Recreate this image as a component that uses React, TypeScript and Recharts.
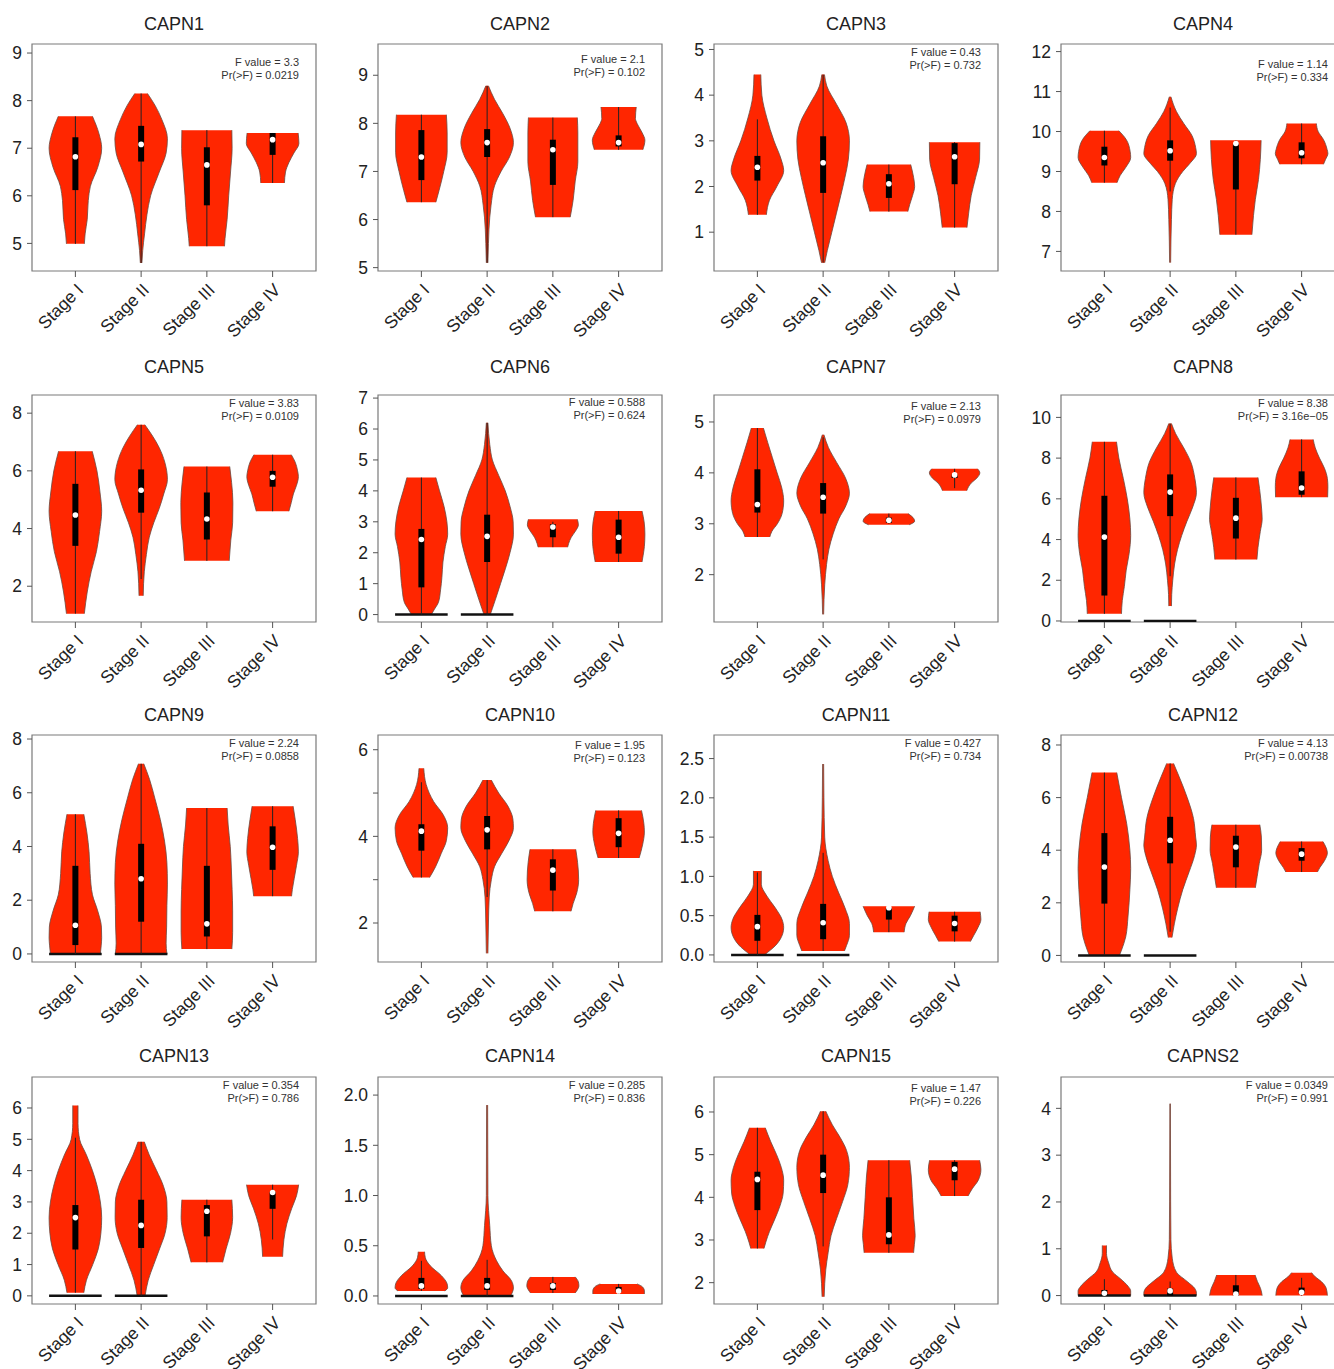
import React from "react";
import { ComposedChart, Area, Line, XAxis, YAxis, ReferenceArea } from "recharts";

const STAGES = ["Stage I", "Stage II", "Stage III", "Stage IV"];

const GENES = [
  "CAPN1", "CAPN2", "CAPN3", "CAPN4",
  "CAPN5", "CAPN6", "CAPN7", "CAPN8",
  "CAPN9", "CAPN10", "CAPN11", "CAPN12",
  "CAPN13", "CAPN14", "CAPN15", "CAPNS2",
];

const F_VALUES = [
  "3.3", "2.1", "0.43", "1.14",
  "3.83", "0.588", "2.13", "8.38",
  "2.24", "1.95", "0.427", "4.13",
  "0.354", "0.285", "1.47", "0.0349",
];

const P_VALUES = [
  "0.0219", "0.102", "0.732", "0.334",
  "0.0109", "0.624", "0.0979", "3.16e\u221205",
  "0.0858", "0.123", "0.734", "0.00738",
  "0.786", "0.836", "0.226", "0.991",
];

const Y_DOMAINS = [
  [4.42, 9.19], [4.93, 9.65], [0.15, 5.12], [6.51, 12.19],
  [0.76, 8.63], [-0.24, 7.1], [1.07, 5.53], [-0.05, 11.1],
  [-0.3, 8.15], [1.1, 6.34], [-0.09, 2.8], [-0.25, 8.38],
  [-0.26, 6.99], [-0.08, 2.18], [1.5, 6.82], [-0.18, 4.67],
];

const Y_TICKS = [
  [5, 6, 7, 8, 9], [5, 6, 7, 8, 9], [1, 2, 3, 4, 5], [7, 8, 9, 10, 11, 12],
  [2, 4, 6, 8], [0, 1, 2, 3, 4, 5, 6, 7], [2, 3, 4, 5], [0, 2, 4, 6, 8, 10],
  [0, 2, 4, 6, 8], [2, 3, 4, 5, 6], [0, 0.5, 1, 1.5, 2, 2.5], [0, 2, 4, 6, 8],
  [0, 1, 2, 3, 4, 5, 6], [0, 0.5, 1, 1.5, 2], [2, 3, 4, 5, 6], [0, 1, 2, 3, 4],
];

const Y_TICK_LABELS = [
  ["5", "6", "7", "8", "9"], ["5", "6", "7", "8", "9"], ["1", "2", "3", "4", "5"], ["7", "8", "9", "10", "11", "12"],
  ["2", "4", "6", "8"], ["0", "1", "2", "3", "4", "5", "6", "7"], ["2", "3", "4", "5"], ["0", "2", "4", "6", "8", "10"],
  ["0", "2", "4", "6", "8"], ["2", "", "4", "", "6"], ["0.0", "0.5", "1.0", "1.5", "2.0", "2.5"], ["0", "2", "4", "6", "8"],
  ["0", "1", "2", "3", "4", "5", "6"], ["0.0", "0.5", "1.0", "1.5", "2.0"], ["2", "3", "4", "5", "6"], ["0", "1", "2", "3", "4"],
];

// violin outlines: [value, relative half-width] from bottom to top, one list per stage
const CAPN1_VIOLINS = [
  [[4.99, 0.34], [5.2, 0.37], [5.5, 0.45], [5.9, 0.49], [6.2, 0.57], [6.6, 0.85], [7.0, 1.0], [7.3, 0.9], [7.67, 0.65]],
  [[4.59, 0.03], [4.85, 0.06], [5.2, 0.13], [5.6, 0.22], [6.0, 0.36], [6.5, 0.69], [6.9, 0.95], [7.2, 1.0], [7.6, 0.79], [7.9, 0.53], [8.15, 0.24]],
  [[4.94, 0.67], [5.1, 0.69], [5.5, 0.77], [6.0, 0.83], [6.5, 0.9], [7.0, 0.96], [7.38, 0.95]],
  [[6.27, 0.45], [6.5, 0.49], [6.7, 0.62], [6.9, 0.81], [7.1, 1.0], [7.32, 0.97]],
];
// box stats: [whisker low, q1, median, q3, whisker high]
const CAPN1_BOXES = [[4.99, 6.12, 6.82, 7.23, 7.67], [4.59, 6.72, 7.08, 7.47, 8.15], [4.94, 5.8, 6.65, 7.02, 7.38], [6.27, 6.86, 7.18, 7.32, 7.32]];

const CAPN2_VIOLINS = [
  [[6.36, 0.55], [6.6, 0.67], [7.0, 0.85], [7.4, 0.98], [7.8, 0.98], [8.18, 0.95]],
  [[5.1, 0.03], [5.5, 0.05], [5.8, 0.07], [6.3, 0.15], [6.7, 0.28], [7.0, 0.53], [7.3, 0.85], [7.6, 1.0], [7.9, 0.87], [8.2, 0.6], [8.5, 0.28], [8.78, 0.05]],
  [[6.05, 0.66], [6.4, 0.77], [6.8, 0.85], [7.2, 0.95], [7.8, 0.95], [8.12, 0.93]],
  [[7.45, 0.92], [7.65, 1.0], [7.8, 0.9], [8.0, 0.7], [8.1, 0.64], [8.34, 0.67]],
];
const CAPN2_BOXES = [[6.36, 6.82, 7.3, 7.86, 8.18], [5.1, 7.3, 7.6, 7.88, 8.78], [6.05, 6.72, 7.45, 7.66, 8.12], [7.45, 7.52, 7.6, 7.75, 8.34]];

const CAPN3_VIOLINS = [
  [[1.38, 0.34], [1.7, 0.46], [2.0, 0.74], [2.35, 1.0], [2.6, 0.9], [3.0, 0.63], [3.5, 0.36], [4.0, 0.17], [4.45, 0.13]],
  [[0.33, 0.06], [0.6, 0.16], [1.0, 0.33], [1.4, 0.5], [1.8, 0.67], [2.2, 0.83], [2.6, 0.96], [3.0, 1.0], [3.4, 0.87], [3.8, 0.51], [4.2, 0.14], [4.45, 0.05]],
  [[1.45, 0.72], [1.6, 0.79], [1.8, 0.9], [2.0, 0.98], [2.2, 0.94], [2.48, 0.83]],
  [[1.1, 0.47], [1.4, 0.53], [1.8, 0.63], [2.2, 0.8], [2.6, 0.95], [2.97, 0.96]],
];
const CAPN3_BOXES = [[1.38, 2.13, 2.42, 2.67, 3.47], [0.33, 1.86, 2.52, 3.1, 4.45], [1.45, 1.75, 2.06, 2.27, 2.48], [1.1, 2.05, 2.65, 2.95, 2.97]];

const CAPN4_VIOLINS = [
  [[8.72, 0.48], [8.9, 0.6], [9.1, 0.81], [9.35, 1.0], [9.5, 0.98], [9.8, 0.83], [10.02, 0.55]],
  [[6.72, 0.02], [7.8, 0.05], [8.3, 0.08], [8.7, 0.2], [9.0, 0.48], [9.2, 0.75], [9.45, 1.0], [9.6, 0.97], [9.9, 0.83], [10.2, 0.52], [10.5, 0.24], [10.87, 0.03]],
  [[7.42, 0.61], [7.9, 0.67], [8.3, 0.74], [8.8, 0.86], [9.3, 0.93], [9.78, 0.96]],
  [[9.18, 0.83], [9.3, 0.91], [9.45, 1.0], [9.55, 0.97], [9.8, 0.83], [10.0, 0.63], [10.2, 0.56]],
];
const CAPN4_BOXES = [[8.72, 9.15, 9.35, 9.62, 10.02], [8.5, 9.27, 9.52, 9.78, 10.6], [7.42, 8.55, 9.7, 9.7, 9.78], [9.18, 9.33, 9.47, 9.73, 10.2]];

const CAPN5_VIOLINS = [
  [[1.05, 0.34], [1.8, 0.45], [2.5, 0.6], [3.2, 0.8], [3.9, 0.92], [4.6, 1.0], [5.3, 0.93], [6.0, 0.82], [6.68, 0.64]],
  [[1.67, 0.08], [2.5, 0.12], [3.1, 0.2], [3.7, 0.31], [4.2, 0.48], [4.7, 0.69], [5.2, 0.86], [5.7, 1.0], [6.3, 0.9], [6.8, 0.69], [7.2, 0.44], [7.6, 0.14]],
  [[2.88, 0.85], [3.6, 0.91], [4.2, 0.98], [4.9, 0.99], [5.6, 0.94], [6.15, 0.87]],
  [[4.6, 0.62], [4.9, 0.71], [5.2, 0.79], [5.5, 0.91], [5.8, 0.98], [6.0, 0.95], [6.3, 0.86], [6.56, 0.71]],
];
const CAPN5_BOXES = [[1.05, 3.4, 4.47, 5.55, 6.68], [2.25, 4.55, 5.33, 6.05, 7.6], [2.88, 3.62, 4.33, 5.25, 6.15], [4.6, 5.45, 5.78, 6.0, 6.56]];

const CAPN6_VIOLINS = [
  [[0, 0.38], [0.15, 0.48], [0.4, 0.65], [0.8, 0.73], [1.2, 0.78], [1.7, 0.82], [2.2, 0.91], [2.6, 1.0], [3.0, 0.97], [3.5, 0.86], [4.0, 0.69], [4.43, 0.55]],
  [[0, 0.12], [0.2, 0.2], [0.5, 0.32], [1.0, 0.51], [1.5, 0.7], [2.0, 0.87], [2.6, 1.0], [3.0, 0.99], [3.5, 0.87], [4.0, 0.69], [4.5, 0.44], [5.0, 0.2], [5.5, 0.1], [6.2, 0.03]],
  [[2.18, 0.56], [2.3, 0.6], [2.5, 0.7], [2.7, 0.86], [2.9, 0.97], [3.08, 0.93]],
  [[1.7, 0.89], [1.9, 0.93], [2.2, 0.98], [2.6, 1.0], [3.0, 0.97], [3.35, 0.89]],
];
const CAPN6_BOXES = [[0, 0.88, 2.43, 2.77, 4.43], [0, 1.7, 2.53, 3.23, 6.2], [2.18, 2.5, 2.83, 2.92, 3.0], [1.7, 1.97, 2.5, 3.07, 3.35]];

const CAPN7_VIOLINS = [
  [[2.74, 0.47], [2.85, 0.55], [3.0, 0.76], [3.2, 0.94], [3.45, 1.0], [3.7, 0.93], [4.0, 0.75], [4.3, 0.57], [4.6, 0.39], [4.88, 0.23]],
  [[1.22, 0.02], [1.8, 0.06], [2.2, 0.13], [2.5, 0.22], [2.8, 0.38], [3.1, 0.6], [3.35, 0.86], [3.6, 1.0], [3.9, 0.85], [4.2, 0.52], [4.5, 0.2], [4.75, 0.03]],
  [[2.98, 0.77], [3.05, 0.98], [3.1, 0.95], [3.2, 0.73]],
  [[3.65, 0.46], [3.8, 0.63], [3.9, 0.85], [4.0, 0.96], [4.08, 0.87]],
];
const CAPN7_BOXES = [[2.74, 3.22, 3.38, 4.07, 4.88], [2.3, 3.2, 3.52, 3.8, 4.7], [3.0, 3.02, 3.07, 3.12, 3.2], [3.7, 3.9, 3.96, 3.97, 4.08]];

const CAPN8_VIOLINS = [
  [[0.35, 0.65], [1.0, 0.68], [1.7, 0.76], [2.5, 0.83], [3.3, 0.94], [4.2, 1.0], [5.0, 0.97], [6.0, 0.87], [7.0, 0.72], [8.0, 0.55], [8.8, 0.46]],
  [[0.73, 0.05], [1.3, 0.06], [2.0, 0.1], [2.8, 0.17], [3.5, 0.28], [4.2, 0.44], [4.9, 0.64], [5.6, 0.86], [6.3, 1.0], [7.0, 0.94], [7.8, 0.79], [8.5, 0.52], [9.2, 0.21], [9.7, 0.05]],
  [[3.02, 0.8], [3.6, 0.84], [4.4, 0.93], [5.0, 1.0], [5.5, 0.98], [6.5, 0.9], [7.05, 0.84]],
  [[6.08, 0.99], [6.6, 1.0], [7.0, 0.98], [7.5, 0.87], [8.0, 0.68], [8.5, 0.52], [8.92, 0.44]],
];
const CAPN8_BOXES = [[0.35, 1.25, 4.12, 6.15, 8.8], [2.2, 5.15, 6.33, 7.2, 9.7], [3.02, 4.05, 5.05, 6.05, 7.05], [6.08, 6.2, 6.53, 7.35, 8.92]];

const CAPN9_VIOLINS = [
  [[0, 0.95], [0.3, 0.98], [0.6, 1.0], [1.0, 0.99], [1.6, 0.85], [2.2, 0.65], [3.0, 0.56], [3.8, 0.52], [4.5, 0.44], [5.2, 0.32]],
  [[0, 0.98], [0.4, 0.95], [1.0, 0.97], [1.8, 0.98], [2.6, 1.0], [3.4, 0.98], [4.2, 0.89], [5.0, 0.73], [5.8, 0.52], [6.5, 0.32], [7.08, 0.1]],
  [[0.18, 0.95], [0.8, 0.98], [1.6, 0.98], [2.4, 0.96], [3.2, 0.93], [4.0, 0.89], [4.8, 0.81], [5.43, 0.77]],
  [[2.15, 0.72], [2.4, 0.75], [2.8, 0.82], [3.3, 0.91], [3.8, 0.98], [4.3, 0.95], [5.0, 0.86], [5.5, 0.78]],
];
const CAPN9_BOXES = [[0, 0.33, 1.07, 3.28, 5.2], [0, 1.2, 2.8, 4.1, 7.08], [0.18, 0.65, 1.12, 3.28, 5.43], [2.15, 3.13, 3.97, 4.75, 5.5]];

const CAPN10_VIOLINS = [
  [[3.05, 0.31], [3.3, 0.54], [3.6, 0.75], [3.9, 0.95], [4.2, 1.0], [4.5, 0.83], [4.8, 0.47], [5.2, 0.18], [5.57, 0.09]],
  [[1.3, 0.03], [2.0, 0.05], [2.6, 0.08], [3.0, 0.16], [3.3, 0.28], [3.6, 0.55], [3.9, 0.83], [4.2, 1.0], [4.4, 0.98], [4.7, 0.79], [5.0, 0.44], [5.3, 0.16]],
  [[2.27, 0.69], [2.45, 0.77], [2.7, 0.91], [3.0, 0.98], [3.4, 0.94], [3.7, 0.87]],
  [[3.5, 0.78], [3.8, 0.91], [4.1, 0.98], [4.3, 0.96], [4.6, 0.87]],
];
const CAPN10_BOXES = [[3.05, 3.67, 4.12, 4.28, 5.25], [2.6, 3.7, 4.15, 4.47, 5.3], [2.27, 2.75, 3.22, 3.47, 3.7], [3.5, 3.75, 4.07, 4.42, 4.6]];

const CAPN11_VIOLINS = [
  [[0, 0.27], [0.03, 0.38], [0.1, 0.63], [0.2, 0.87], [0.35, 1.0], [0.45, 0.94], [0.6, 0.68], [0.75, 0.36], [0.9, 0.15], [1.07, 0.15]],
  [[0.05, 0.81], [0.12, 0.89], [0.25, 1.0], [0.4, 1.0], [0.6, 0.83], [0.8, 0.58], [1.0, 0.35], [1.2, 0.19], [1.5, 0.06], [2.0, 0.03], [2.43, 0.02]],
  [[0.29, 0.58], [0.4, 0.65], [0.5, 0.82], [0.62, 0.98]],
  [[0.17, 0.6], [0.25, 0.73], [0.35, 0.89], [0.45, 1.0], [0.55, 0.97]],
];
const CAPN11_BOXES = [[0, 0.18, 0.36, 0.51, 1.05], [0.05, 0.2, 0.41, 0.65, 1.3], [0.29, 0.45, 0.6, 0.6, 0.62], [0.17, 0.3, 0.4, 0.5, 0.55]];

const CAPN12_VIOLINS = [
  [[0.02, 0.58], [0.2, 0.65], [0.7, 0.81], [1.5, 0.9], [2.5, 0.97], [3.3, 1.0], [4.0, 0.97], [5.0, 0.85], [6.0, 0.65], [6.95, 0.47]],
  [[0.68, 0.07], [1.2, 0.16], [1.8, 0.29], [2.5, 0.48], [3.2, 0.73], [3.8, 0.93], [4.2, 1.0], [4.5, 0.97], [5.2, 0.89], [6.0, 0.65], [6.8, 0.34], [7.3, 0.13]],
  [[2.57, 0.74], [3.0, 0.81], [3.5, 0.89], [4.0, 0.98], [4.5, 0.97], [4.97, 0.91]],
  [[3.17, 0.6], [3.35, 0.7], [3.6, 0.87], [3.9, 0.98], [4.1, 0.93], [4.33, 0.81]],
];
const CAPN12_BOXES = [[0.02, 1.97, 3.36, 4.65, 6.95], [0.9, 3.5, 4.38, 5.27, 7.3], [2.57, 3.35, 4.12, 4.55, 4.97], [3.17, 3.6, 3.85, 4.08, 4.33]];

const CAPN13_VIOLINS = [
  [[0.1, 0.32], [0.5, 0.42], [1.0, 0.66], [1.5, 0.87], [2.0, 0.97], [2.5, 1.0], [3.0, 0.95], [3.5, 0.83], [4.0, 0.65], [4.5, 0.42], [5.0, 0.16], [5.5, 0.1], [6.08, 0.1]],
  [[0, 0.15], [0.5, 0.27], [1.0, 0.48], [1.5, 0.7], [2.0, 0.91], [2.5, 0.99], [3.0, 0.98], [3.5, 0.85], [4.0, 0.59], [4.5, 0.31], [4.92, 0.12]],
  [[1.07, 0.6], [1.5, 0.73], [2.0, 0.9], [2.5, 0.98], [3.07, 0.95]],
  [[1.25, 0.38], [1.8, 0.43], [2.3, 0.54], [2.8, 0.73], [3.2, 0.91], [3.55, 0.99]],
];
const CAPN13_BOXES = [[0.1, 1.48, 2.5, 2.9, 5.05], [0, 1.53, 2.25, 3.07, 4.92], [1.07, 1.9, 2.7, 2.9, 3.07], [1.8, 2.78, 3.3, 3.32, 3.55]];

const CAPN14_VIOLINS = [
  [[0.05, 0.89], [0.08, 1.0], [0.12, 0.98], [0.2, 0.77], [0.3, 0.34], [0.38, 0.15], [0.44, 0.12]],
  [[0, 0.89], [0.03, 0.95], [0.08, 1.0], [0.15, 0.93], [0.25, 0.6], [0.35, 0.36], [0.5, 0.16], [0.7, 0.1], [1.0, 0.03], [1.9, 0.02]],
  [[0.03, 0.85], [0.06, 0.93], [0.1, 0.99], [0.14, 0.97], [0.19, 0.85]],
  [[0.02, 0.98], [0.05, 0.98], [0.09, 0.91], [0.12, 0.7]],
];
const CAPN14_BOXES = [[0.05, 0.07, 0.1, 0.18, 0.35], [0, 0.06, 0.1, 0.18, 0.36], [0.03, 0.06, 0.1, 0.13, 0.19], [0.02, 0.04, 0.05, 0.09, 0.12]];

const CAPN15_VIOLINS = [
  [[2.8, 0.25], [2.95, 0.32], [3.2, 0.46], [3.5, 0.67], [3.8, 0.86], [4.1, 0.98], [4.4, 1.0], [4.7, 0.91], [5.0, 0.73], [5.3, 0.51], [5.63, 0.3]],
  [[1.67, 0.04], [2.3, 0.1], [2.7, 0.19], [3.1, 0.3], [3.5, 0.51], [3.9, 0.74], [4.3, 0.94], [4.7, 1.0], [5.1, 0.89], [5.4, 0.65], [5.7, 0.35], [6.02, 0.1]],
  [[2.7, 0.94], [2.9, 0.97], [3.1, 1.0], [3.5, 0.95], [4.0, 0.9], [4.5, 0.85], [4.87, 0.79]],
  [[4.03, 0.51], [4.2, 0.67], [4.4, 0.9], [4.65, 1.0], [4.87, 0.95]],
];
const CAPN15_BOXES = [[2.8, 3.7, 4.42, 4.6, 5.63], [2.85, 4.1, 4.52, 5.0, 6.02], [2.7, 2.9, 3.12, 4.0, 4.87], [4.03, 4.4, 4.66, 4.83, 4.87]];

const CAPNS2_VIOLINS = [
  [[0, 1.0], [0.1, 1.0], [0.2, 0.9], [0.35, 0.63], [0.5, 0.32], [0.7, 0.16], [0.9, 0.08], [1.07, 0.08]],
  [[0, 1.0], [0.05, 1.0], [0.15, 0.94], [0.3, 0.65], [0.5, 0.24], [0.8, 0.08], [1.2, 0.03], [2.0, 0.02], [4.1, 0.01]],
  [[0, 1.0], [0.15, 0.94], [0.3, 0.82], [0.44, 0.73]],
  [[0, 0.98], [0.15, 0.94], [0.3, 0.75], [0.4, 0.52], [0.49, 0.38]],
];
const CAPNS2_BOXES = [[0, 0, 0.05, 0.12, 0.35], [0, 0, 0.1, 0.15, 0.3], [0, 0, 0.03, 0.22, 0.44], [0, 0.05, 0.07, 0.17, 0.38]];

// stages that have a flat black bar at zero
const ZERO_BAR_STAGES = [
  [], [], [], [],
  [], [0, 1], [], [0, 1],
  [0, 1], [], [0, 1], [0, 1],
  [0, 1], [0, 1], [], [0, 1],
];

const VIOLINS = [
  CAPN1_VIOLINS, CAPN2_VIOLINS, CAPN3_VIOLINS, CAPN4_VIOLINS,
  CAPN5_VIOLINS, CAPN6_VIOLINS, CAPN7_VIOLINS, CAPN8_VIOLINS,
  CAPN9_VIOLINS, CAPN10_VIOLINS, CAPN11_VIOLINS, CAPN12_VIOLINS,
  CAPN13_VIOLINS, CAPN14_VIOLINS, CAPN15_VIOLINS, CAPNS2_VIOLINS,
];
const BOXES = [
  CAPN1_BOXES, CAPN2_BOXES, CAPN3_BOXES, CAPN4_BOXES,
  CAPN5_BOXES, CAPN6_BOXES, CAPN7_BOXES, CAPN8_BOXES,
  CAPN9_BOXES, CAPN10_BOXES, CAPN11_BOXES, CAPN12_BOXES,
  CAPN13_BOXES, CAPN14_BOXES, CAPN15_BOXES, CAPNS2_BOXES,
];

// layout
const FONT = "'Liberation Sans', Arial, Helvetica, sans-serif";
const RED = "#ff2600";
const HALF = 0.4;
const X_DOMAIN = [-0.66, 3.66];
const COL_LEFT = [32, 378, 714, 1061];
const ROW_TOP = [44, 395, 735, 1077];
const ROW_TITLE_Y = [24, 367, 715, 1056];
const STAT_Y = [
  63, 60, 53, 65,
  404, 403, 407, 404,
  744, 746, 744, 744,
  1086, 1086, 1089, 1086,
];
const PLOT_W = 284;
const PLOT_H = 227;
const Y_AXIS_W = 40;
const M_LEFT = 5;
const M_TOP = 12;
const X_AXIS_H = 82;

const StageTick = (props: any) => {
  const { x, y, payload } = props;
  return (
    <text
      transform={`translate(${x + 9},${y + 12}) rotate(-45)`}
      textAnchor="end"
      fontSize={17.5}
      fill="#222"
      fontFamily={FONT}
    >
      {STAGES[payload.value]}
    </text>
  );
};

function Panel({ index }: { index: number }) {
  const col = index % 4;
  const row = Math.floor(index / 4);
  const boxLeft = COL_LEFT[col];
  const boxTop = ROW_TOP[row];
  const domain = Y_DOMAINS[index];
  const labels = Y_TICK_LABELS[index];
  const violins = VIOLINS[index];
  const boxes = BOXES[index];
  const zeroStages = ZERO_BAR_STAGES[index];

  return (
    <>
      <div
        style={{
          position: "absolute",
          left: boxLeft,
          width: PLOT_W,
          top: ROW_TITLE_Y[row] - 11,
          height: 22,
          lineHeight: "22px",
          textAlign: "center",
          fontSize: 18,
          color: "#222",
          fontFamily: FONT,
          zIndex: 2,
        }}
      >
        {GENES[index]}
      </div>
      <div
        style={{
          position: "absolute",
          left: boxLeft + 40,
          width: PLOT_W - 57,
          top: STAT_Y[index] - 7,
          textAlign: "right",
          fontSize: 11,
          lineHeight: "12.5px",
          color: "#333",
          fontFamily: FONT,
          zIndex: 2,
        }}
      >
        <div>F value = {F_VALUES[index]}</div>
        <div>Pr(&gt;F) = {P_VALUES[index]}</div>
      </div>
      <div style={{ position: "absolute", left: boxLeft - M_LEFT - Y_AXIS_W, top: boxTop - M_TOP }}>
        <ComposedChart
          layout="vertical"
          width={M_LEFT + Y_AXIS_W + PLOT_W + 1}
          height={M_TOP + PLOT_H + X_AXIS_H}
          margin={{ top: M_TOP, right: 1, bottom: 0, left: M_LEFT }}
        >
          <XAxis
            type="number"
            dataKey="x"
            domain={X_DOMAIN}
            ticks={[0, 1, 2, 3]}
            interval={0}
            allowDataOverflow
            axisLine={false}
            tickSize={6}
            tickLine={{ stroke: "#555" }}
            height={X_AXIS_H}
            tick={<StageTick />}
          />
          <YAxis
            type="number"
            dataKey="y"
            reversed
            domain={domain}
            ticks={Y_TICKS[index]}
            interval={0}
            allowDataOverflow
            axisLine={false}
            tickSize={5}
            tickMargin={5}
            tickLine={{ stroke: "#555" }}
            width={Y_AXIS_W}
            tick={{ fontSize: 17.5, fill: "#222", fontFamily: FONT }}
            tickFormatter={(_v: any, i: number) => labels[i]}
          />
          {violins.map((profile, s) => (
            <Area
              key={`v${s}`}
              data={profile.map(([y, w]) => ({ y, range: [s - w * HALF, s + w * HALF] }))}
              dataKey="range"
              type="monotone"
              fill={RED}
              fillOpacity={1}
              stroke="#6a4a40"
              strokeWidth={0.8}
              dot={false}
              activeDot={false}
              isAnimationActive={false}
            />
          ))}
          {zeroStages.map((s) => (
            <Line
              key={`z${s}`}
              data={[{ y: 0, x: s - HALF }, { y: 0, x: s + HALF }]}
              dataKey="x"
              stroke="#111"
              strokeWidth={2.5}
              dot={false}
              activeDot={false}
              isAnimationActive={false}
            />
          ))}
          {boxes.map((b, s) => (
            <Line
              key={`w${s}`}
              data={[{ y: b[0], x: s }, { y: b[4], x: s }]}
              dataKey="x"
              stroke="#222"
              strokeWidth={1}
              dot={false}
              activeDot={false}
              isAnimationActive={false}
            />
          ))}
          {boxes.map((b, s) => (
            <Line
              key={`b${s}`}
              data={[{ y: b[1], x: s }, { y: b[3], x: s }]}
              dataKey="x"
              stroke="#000"
              strokeWidth={6}
              dot={false}
              activeDot={false}
              isAnimationActive={false}
            />
          ))}
          {boxes.map((b, s) => (
            <Line
              key={`m${s}`}
              data={[{ y: b[2], x: s }]}
              dataKey="x"
              stroke="none"
              dot={{ r: 2.8, fill: "#fff", stroke: "none", strokeWidth: 0 }}
              activeDot={false}
              isAnimationActive={false}
            />
          ))}
          <ReferenceArea
            x1={X_DOMAIN[0]}
            x2={X_DOMAIN[1]}
            y1={domain[0]}
            y2={domain[1]}
            ifOverflow="visible"
            fill="none"
            fillOpacity={0}
            stroke="#7a7a7a"
            strokeWidth={1.2}
          />
        </ComposedChart>
      </div>
    </>
  );
}

export default function App() {
  return (
    <div
      style={{
        position: "absolute",
        left: 0,
        top: 0,
        width: 1334,
        height: 1369,
        overflow: "hidden",
        background: "#fff",
      }}
    >
      {GENES.map((g, i) => (
        <Panel key={g} index={i} />
      ))}
    </div>
  );
}
